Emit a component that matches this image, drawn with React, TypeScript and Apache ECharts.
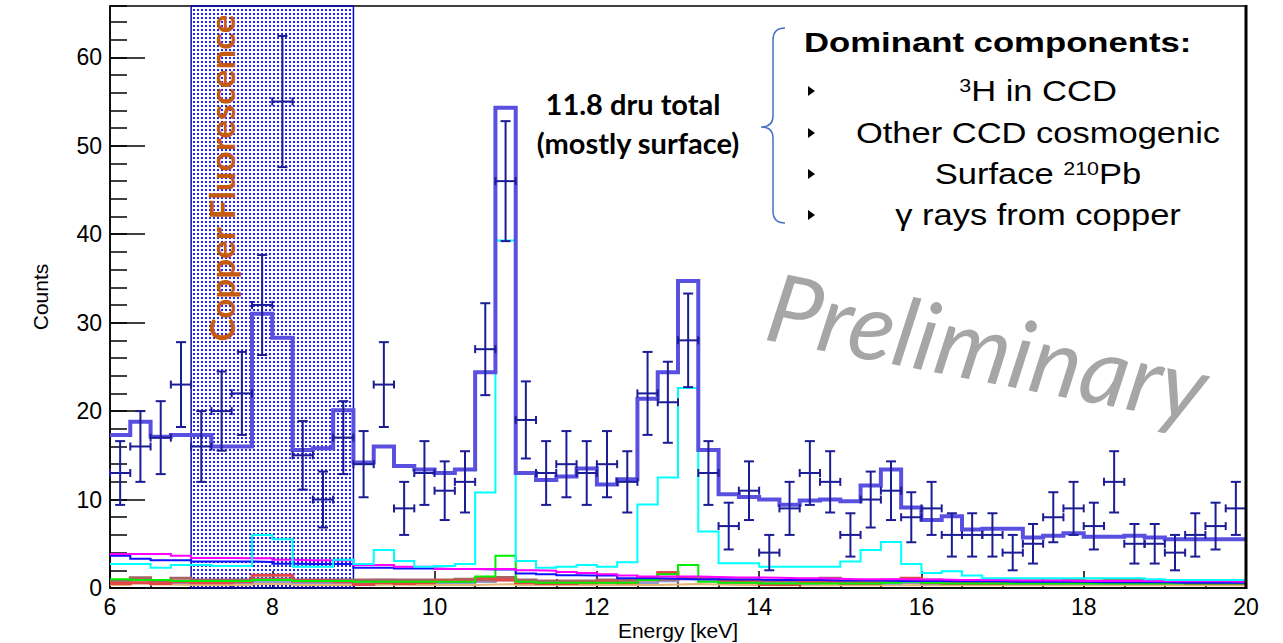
import React, { useEffect, useRef } from 'react';
import * as echarts from 'echarts';

// ---- axis setup ----
const X_MIN = 6;
const X_MAX = 20;
const Y_MIN = 0;
const Y_MAX = 65.8;
const BIN_WIDTH = 0.25;

// ---- data: counts per 0.25 keV bin (6.0 .. 20.0 keV) ----
const dataCounts = [
  13, 16, 17, 23, 16, 20, 22, 32, 55, 15, 10, 17, 14, 23, 9, 13,
  11, 12, 27, 46, 19, 13, 14, 13, 14, 12, 22, 21, 28, 13, 7, 11,
  4, 9, 13, 12, 6, 10, 11, 8, 9, 6, 6, 6, 4, 5, 8, 9,
  7, 12, 5, 5, 4, 6, 7, 9,
];

// total model (thick purple)
const totalModel = [
  17.3, 18.8, 17.1, 17.3, 17.3, 16.0, 16.0, 31.0, 28.3, 15.6, 15.8, 20.1, 14.2, 16.0, 13.8, 13.4,
  13.0, 13.4, 24.4, 54.3, 13.0, 12.2, 12.6, 13.5, 11.7, 12.3, 21.4, 24.4, 34.7, 15.6, 10.6, 10.3,
  10.0, 9.4, 9.9, 10.0, 9.8, 11.6, 13.4, 9.1, 7.7, 8.1, 6.6, 6.7, 6.7, 5.7, 5.9, 6.2,
  5.8, 5.8, 5.9, 5.7, 5.5, 5.5, 5.5, 5.5,
];

// component histograms
const cyanComp = [
  2.7, 2.7, 2.3, 2.6, 2.6, 2.5, 2.5, 6.0, 5.5, 2.4, 2.4, 3.2, 2.7, 4.3, 3.05, 2.4,
  2.5, 2.7, 10.8, 39.3, 3.05, 2.3, 2.4, 2.6, 2.4, 2.9, 9.45, 12.5, 22.6, 6.4, 2.8, 2.8,
  2.4, 2.4, 2.4, 2.4, 3.0, 4.3, 5.2, 2.7, 1.7, 1.9, 1.4, 1.1, 1.1, 1.1, 1.1, 1.1,
  1.1, 1.1, 1.1, 1.0, 0.9, 0.9, 0.9, 0.9,
];
const magentaComp = [
  3.85, 3.85, 3.85, 3.65, 3.4, 3.4, 3.35, 3.35, 3.2, 3.15, 3.15, 3.1, 2.6, 2.6, 2.4, 2.4,
  2.15, 2.15, 2.15, 2.15, 2.0, 1.95, 1.8, 1.7, 1.55, 1.4, 1.3, 1.3, 1.3, 1.25, 1.2, 1.2,
  1.15, 1.1, 1.1, 1.05, 1.0, 1.0, 1.0, 0.95, 0.95, 0.9, 0.9, 0.9, 0.85, 0.85, 0.85, 0.8,
  0.8, 0.8, 0.8, 0.75, 0.75, 0.75, 0.75, 0.7,
];
const blueComp = [
  3.65, 3.3, 3.15, 3.15, 3.0, 3.0, 3.0, 2.95, 2.75, 2.7, 2.7, 2.7, 2.3, 2.3, 2.2, 2.2,
  2.15, 2.15, 2.1, 2.1, 1.65, 1.55, 1.45, 1.4, 1.4, 1.1, 1.1, 1.05, 1.0, 1.0, 0.95, 0.95,
  0.9, 0.9, 0.9, 0.85, 0.85, 0.85, 0.8, 0.8, 0.8, 0.75, 0.75, 0.75, 0.7, 0.7, 0.7, 0.7,
  0.65, 0.65, 0.65, 0.65, 0.6, 0.6, 0.6, 0.6,
];
const greenComp = [
  1.0, 0.9, 0.9, 0.8, 0.8, 0.8, 0.8, 0.9, 0.9, 0.8, 0.8, 0.8, 0.7, 0.7, 0.7, 0.7,
  0.7, 0.7, 1.3, 3.65, 0.7, 0.6, 0.6, 0.6, 0.6, 0.6, 0.9, 1.55, 2.6, 0.7, 0.6, 0.6,
  0.5, 0.5, 0.5, 0.5, 0.5, 0.5, 0.6, 0.7, 0.6, 0.5, 0.5, 0.5, 0.5, 0.5, 0.5, 0.5,
  0.5, 0.5, 0.5, 0.5, 0.5, 0.5, 0.5, 0.5,
];
const redComp = [
  0.5, 0.6, 0.5, 0.7, 0.6, 0.6, 0.7, 1.45, 1.45, 0.8, 0.8, 0.7, 0.4, 0.6, 0.5, 0.6,
  0.8, 0.8, 1.1, 0.9, 0.6, 0.5, 0.5, 0.6, 0.7, 0.6, 1.2, 1.75, 1.1, 1.1, 0.7, 0.7,
  0.4, 0.4, 0.7, 0.7, 0.5, 0.5, 0.9, 1.1, 0.6, 0.5, 0.5, 0.5, 0.6, 0.6, 0.6, 0.7,
  0.7, 0.6, 0.6, 0.6, 0.6, 0.5, 0.5, 0.5,
];
const brownComp = [
  0.8, 1.15, 0.8, 1.1, 0.9, 0.9, 0.9, 1.0, 1.0, 0.9, 0.9, 0.9, 0.9, 0.9, 0.9, 0.9,
  0.9, 1.0, 0.9, 1.2, 0.9, 0.8, 0.8, 0.8, 0.9, 0.9, 0.9, 1.0, 1.2, 1.1, 0.9, 0.9,
  0.8, 0.8, 0.8, 1.1, 0.8, 0.8, 0.8, 0.9, 0.9, 0.8, 0.8, 0.8, 0.8, 0.8, 0.8, 0.9,
  0.8, 0.9, 0.9, 0.8, 0.8, 0.8, 0.8, 0.8,
];
const greyBlueComp = [
  0.6, 0.6, 0.6, 0.6, 0.6, 0.6, 0.6, 0.7, 0.7, 0.6, 0.6, 0.6, 0.7, 0.9, 0.6, 0.6,
  0.6, 0.6, 0.7, 0.9, 0.7, 0.6, 0.6, 0.6, 0.6, 0.6, 0.6, 0.8, 1.0, 0.8, 0.6, 0.6,
  0.5, 0.5, 0.5, 0.6, 0.5, 0.5, 0.5, 0.6, 0.5, 0.5, 0.5, 0.5, 0.5, 0.5, 0.5, 0.5,
  0.5, 0.5, 0.5, 0.5, 0.6, 0.6, 0.6, 0.6,
];
const orangeComp = [
  0.35, 0.5, 0.4, 0.35, 0.35, 0.35, 0.35, 0.45, 0.45, 0.35, 0.35, 0.35, 0.35, 0.4, 0.35, 0.35,
  0.35, 0.35, 0.4, 0.45, 0.35, 0.35, 0.35, 0.35, 0.35, 0.35, 0.35, 0.4, 0.45, 0.4, 0.35, 0.35,
  0.3, 0.3, 0.3, 0.35, 0.3, 0.3, 0.3, 0.35, 0.3, 0.3, 0.3, 0.3, 0.3, 0.3, 0.3, 0.3,
  0.3, 0.3, 0.35, 0.3, 0.3, 0.3, 0.3, 0.3,
];

const shadedRegion = [7, 9];

const legendTitle = 'Dominant components:';
const legendItems = [
  '{sup|3}H in CCD',
  'Other CCD cosmogenic',
  'Surface {sup|210}Pb',
  'γ rays from copper',
];

const BRACE_D =
  'M785,28 Q773,28 773,40 L773,116 Q773,127 761,127 Q773,127 773,138 L773,211 Q773,223 785,223';
echarts.graphic.registerShape('brace', echarts.graphic.extendPath(BRACE_D, {}));

function stepPoints(vals: number[]) {
  const pts: number[][] = [];
  vals.forEach((v, i) => {
    const lo = X_MIN + i * BIN_WIDTH;
    pts.push([lo, v], [lo + BIN_WIDTH, v]);
  });
  return pts;
}

function histSeries(vals: number[], color: string, width: number, z: number) {
  return {
    type: 'line',
    data: stepPoints(vals),
    showSymbol: false,
    symbol: 'none',
    silent: true,
    z,
    lineStyle: { color, width, join: 'miter', cap: 'butt' },
  };
}

export default function App() {
  const ref = useRef<HTMLDivElement>(null);
  useEffect(() => {
    const chart = echarts.init(ref.current!, null, { renderer: 'svg' });
    const cv = document.createElement('canvas');
    cv.width = 4;
    cv.height = 4;
    const ctx = cv.getContext('2d')!;
    ctx.fillStyle = '#2222ff';
    ctx.fillRect(1, 1, 2, 2);
    const dotPattern = { image: cv.toDataURL(), repeat: 'repeat', imageWidth: 4, imageHeight: 4 };

    const font = 'Liberation Sans, Arial, sans-serif';
    const errData = dataCounts.map((c, i) => [X_MIN + i * BIN_WIDTH + BIN_WIDTH / 2, c]);

    const rowY = [91, 133, 174, 215];

    const option: any = {
      animation: false,
      backgroundColor: '#fff',
      grid: {
        left: 110,
        right: 37,
        top: 6,
        bottom: 55,
        show: true,
        borderColor: '#000',
        borderWidth: 1.5,
        backgroundColor: 'transparent',
      },
      xAxis: [
        {
          type: 'value',
          min: X_MIN,
          max: X_MAX,
          interval: 2,
          axisLine: { show: true, onZero: false, lineStyle: { color: '#000', width: 1.5 } },
          axisTick: { show: true, inside: true, length: 17, lineStyle: { color: '#000', width: 1.5 } },
          axisLabel: { color: '#000', fontSize: 23, fontFamily: font, margin: 7 },
          splitLine: { show: false },
        },
        {
          type: 'value',
          min: X_MIN,
          max: X_MAX,
          interval: 0.5,
          position: 'bottom',
          axisLine: { show: false },
          axisTick: { show: true, inside: true, length: 9, lineStyle: { color: '#000', width: 1.5 } },
          axisLabel: { show: false },
          splitLine: { show: false },
        },
      ],
      yAxis: [
        {
          type: 'value',
          min: Y_MIN,
          max: Y_MAX,
          interval: 10,
          axisLine: { show: true, onZero: false, lineStyle: { color: '#000', width: 1.5 } },
          axisTick: { show: true, inside: true, length: 35, lineStyle: { color: '#000', width: 1.5 } },
          axisLabel: { color: '#000', fontSize: 23, fontFamily: font, margin: 8, showMaxLabel: false },
          splitLine: { show: false },
        },
        {
          type: 'value',
          min: Y_MIN,
          max: Y_MAX,
          interval: 2,
          position: 'left',
          axisLine: { show: false },
          axisTick: { show: true, inside: true, length: 17, lineStyle: { color: '#000', width: 1.5 } },
          axisLabel: { show: false },
          splitLine: { show: false },
        },
      ],
      series: [
        histSeries(orangeComp, '#e8b474', 2, 2),
        histSeries(greyBlueComp, '#8c9ccc', 2.5, 2),
        histSeries(brownComp, '#a86464', 3, 2),
        histSeries(redComp, '#e24848', 3, 2),
        histSeries(greenComp, '#00ee00', 2, 2),
        histSeries(blueComp, '#1010ff', 2, 2),
        histSeries(magentaComp, '#ff00ff', 2, 2),
        histSeries(cyanComp, '#00ffff', 2, 2),
        histSeries(totalModel, '#5a50e0', 4, 3),
        {
          type: 'line',
          data: [[shadedRegion[0], 0], [shadedRegion[1], 0]],
          showSymbol: false,
          symbol: 'none',
          silent: true,
          z: 4,
          lineStyle: { opacity: 0, width: 0 },
          markArea: {
            silent: true,
            itemStyle: { color: dotPattern, borderColor: '#0a0aa8', borderWidth: 1.5 },
            data: [[{ xAxis: shadedRegion[0] }, { xAxis: shadedRegion[1] }]],
          },
        },
        {
          type: 'custom',
          data: errData,
          z: 5,
          silent: true,
          encode: { x: 0, y: 1 },
          renderItem: (params: any, api: any) => {
            const x = api.value(0);
            const y = api.value(1);
            const e = Math.sqrt(y);
            const c = api.coord([x, y]);
            const t = api.coord([x, y + e]);
            const b = api.coord([x, y - e]);
            const l = api.coord([x - BIN_WIDTH / 2, y]);
            const r = api.coord([x + BIN_WIDTH / 2, y]);
            const st = { stroke: '#1c1c96', lineWidth: 2 };
            const cap = 5;
            const hc = 4;
            return {
              type: 'group',
              children: [
                { type: 'line', shape: { x1: c[0], y1: t[1], x2: c[0], y2: b[1] }, style: st },
                { type: 'line', shape: { x1: c[0] - cap, y1: t[1], x2: c[0] + cap, y2: t[1] }, style: st },
                { type: 'line', shape: { x1: c[0] - cap, y1: b[1], x2: c[0] + cap, y2: b[1] }, style: st },
                { type: 'line', shape: { x1: l[0], y1: c[1], x2: r[0], y2: c[1] }, style: st },
                { type: 'line', shape: { x1: l[0], y1: c[1] - hc, x2: l[0], y2: c[1] + hc }, style: st },
                { type: 'line', shape: { x1: r[0], y1: c[1] - hc, x2: r[0], y2: c[1] + hc }, style: st },
              ],
            };
          },
        },
      ],
      graphic: [
        {
          type: 'line',
          z: 100,
          shape: { x1: 1246, y1: 5, x2: 1246, y2: 589 },
          style: { stroke: '#000', lineWidth: 3 },
        },
        {
          type: 'text',
          x: 40,
          y: 297,
          rotation: Math.PI / 2,
          z: 100,
          style: {
            text: 'Counts',
            fill: '#000',
            font: '21px Liberation Sans',
            align: 'center', verticalAlign: 'middle',
            textAlign: 'center', textVerticalAlign: 'middle',
          },
        },
        {
          type: 'text',
          x: 678,
          y: 630,
          z: 100,
          style: {
            text: 'Energy [keV]',
            fill: '#000',
            font: '21px Liberation Sans',
            align: 'center', verticalAlign: 'middle',
            textAlign: 'center', textVerticalAlign: 'middle',
          },
        },
        {
          type: 'text',
          x: 221,
          y: 178,
          rotation: Math.PI / 2,
          z: 100,
          style: {
            text: 'Copper Fluorescence',
            fill: '#c55a11',
            font: 'bold 35px Lato',
            align: 'center', verticalAlign: 'middle',
            textAlign: 'center', textVerticalAlign: 'middle',
          },
        },
        {
          type: 'text',
          x: 633,
          y: 103,
          z: 100,
          style: {
            text: '11.8 dru total',
            fill: '#000',
            font: 'bold 29px Lato',
            align: 'center', verticalAlign: 'middle',
            textAlign: 'center', textVerticalAlign: 'middle',
          },
        },
        {
          type: 'text',
          x: 638,
          y: 142,
          z: 100,
          style: {
            text: '(mostly surface)',
            fill: '#000',
            font: 'bold 29px Lato',
            align: 'center', verticalAlign: 'middle',
            textAlign: 'center', textVerticalAlign: 'middle',
          },
        },
        {
          type: 'brace',
          x: 0,
          y: 0,
          z: 100,
          style: { fill: 'none', stroke: '#4472c4', lineWidth: 1.5 },
        },
        {
          type: 'text',
          x: 804,
          y: 42,
          scaleX: 1.24,
          z: 100,
          style: {
            text: legendTitle,
            fill: '#000',
            font: 'bold 28px Liberation Sans',
            align: 'left', verticalAlign: 'middle',
            textAlign: 'left', textVerticalAlign: 'middle',
          },
        },
        ...rowY.map((y) => ({
          type: 'polygon',
          z: 100,
          shape: { points: [[808, y - 5], [815, y], [808, y + 5]] },
          style: { fill: '#000' },
        })),
        ...legendItems.map((t, i) => ({
          type: 'text',
          x: 1038,
          y: rowY[i],
          scaleX: 1.19,
          z: 100,
          style: {
            text: t,
            fill: '#000',
            font: '29px Liberation Sans',
            align: 'center', verticalAlign: 'middle',
            textAlign: 'center', textVerticalAlign: 'middle',
            rich: {
              sup: {
                fontSize: 18,
                fontFamily: 'Liberation Sans',
                verticalAlign: 'top',
                fill: '#000',
                color: '#000',
              },
            },
          },
        })),
        {
          type: 'text',
          x: 988,
          y: 345,
          rotation: -0.19,
          z: 100,
          style: {
            text: 'Preliminary',
            fill: '#a6a6a6',
            font: 'italic 95px Lato',
            align: 'center', verticalAlign: 'middle',
            textAlign: 'center', textVerticalAlign: 'middle',
          },
        },
      ],
    };
    chart.setOption(option);
    return () => chart.dispose();
  }, []);
  return (
    <div
      ref={ref}
      style={{ position: 'absolute', left: 0, top: 0, width: 1283, height: 643, background: '#fff' }}
    />
  );
}
